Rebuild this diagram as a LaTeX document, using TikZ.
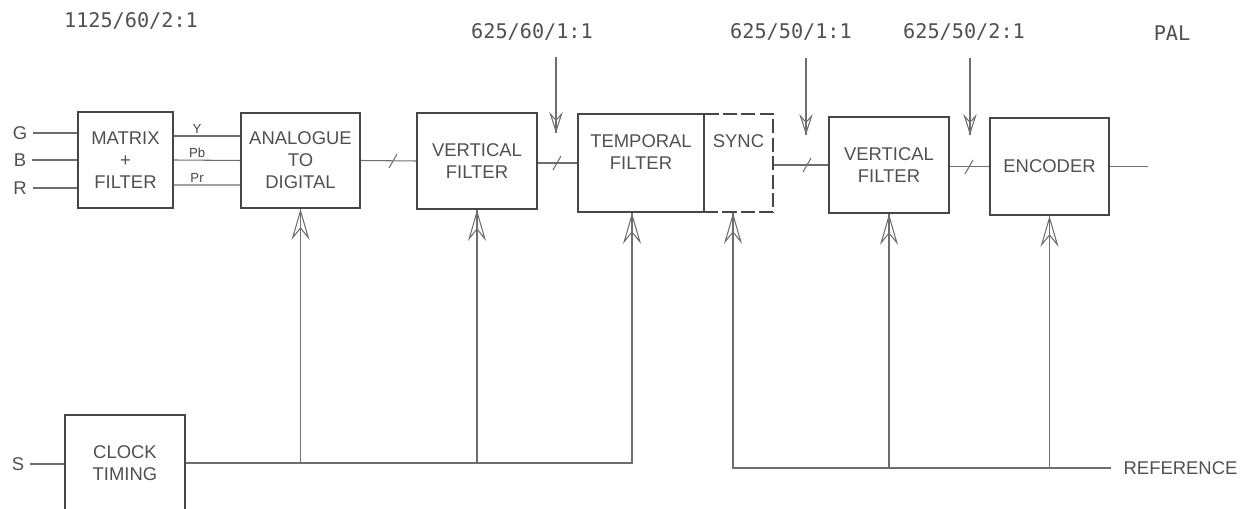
\documentclass[tikz,border=0pt]{standalone}
\usepackage{fontspec}
\setmainfont{Liberation Sans}
\newfontfamily\ratefont{DejaVu Sans Mono}
\usepackage{xcolor}
\definecolor{tvdark}{RGB}{70,70,70}
\definecolor{tvgray}{RGB}{110,110,110}
\definecolor{tvtext}{RGB}{80,80,80}
\usetikzlibrary{arrows.meta, positioning, calc}

\begin{document}
\begin{tikzpicture}[x=0.02cm, y=-0.02cm,
  block/.style={draw=tvdark, line width=1pt, text=tvtext, align=center,
    font=\fontsize{10.5}{12.5}\selectfont, minimum width=2.4cm, minimum height=1.92cm, inner sep=0pt},
  sig/.style={draw=tvgray, line width=0.6pt},
  feed/.style={sig, postaction={draw, -{Stealth[open, length=0.62cm, width=0.36cm, inset=0.22cm]}}},
  rate/.style={sig, postaction={draw, -{Stealth[open, length=0.42cm, width=0.27cm, inset=0.15cm]}}},
  lbl/.style={text=tvtext, font=\fontsize{10.5}{12.5}\selectfont},
  ratelbl/.style={text=tvtext, font=\ratefont\fontsize{11.5}{13}\selectfont},
  chan/.style={text=tvdark, font=\fontsize{7.5}{8}\selectfont, inner sep=1pt}]

\useasboundingbox (0,0) rectangle (1246,509);
\clip (0,0) rectangle (1246,509);

% --- Scan rates along the chain ---
\node[ratelbl] (rate-hd) at (131,21) {1125/60/2:1};
\node[ratelbl] (rate-a) at (532,32) {625/60/1:1};
\node[ratelbl] (rate-b) at (791,32) {625/50/1:1};
\node[ratelbl] (rate-c) at (964,32) {625/50/2:1};
\node[ratelbl] (rate-pal) at (1172,33) {PAL};

% --- Processing blocks ---
\node[block, minimum width=1.9cm] (matrix) at (125.5,160) {MATRIX\\+\\FILTER};
\node[block, minimum width=2.38cm, minimum height=1.9cm] (atod) at (300.5,160.5) {ANALOGUE\\TO\\DIGITAL};
\node[block] (vf1) at (477,161) {VERTICAL\\FILTER};
\node[block, minimum width=2.52cm, minimum height=1.96cm] (temporal) at (641,163) {TEMPORAL\\FILTER\\~};
\node[block, dash pattern=on 8pt off 2.5pt, minimum width=1.38cm, minimum height=1.96cm] (sync) at (738.5,163) {SYNC\\~\\~};
\node[block] (vf2) at (889,165) {VERTICAL\\FILTER};
\node[block, minimum width=2.38cm, minimum height=1.94cm] (encoder) at (1049.5,166.5) {ENCODER};
\node[block] (clock) at (125,463) {CLOCK\\TIMING};

% --- RGB inputs ---
\node[lbl] (G) at (20,133) {G};
\node[lbl] (B) at (20,160) {B};
\node[lbl] (R) at (20,188) {R};
\draw[sig] (G) -- (G -| matrix.west);
\draw[sig] (B) -- (B -| matrix.west);
\draw[sig] (R) -- (R -| matrix.west);

% --- Y Pb Pr to converter ---
\draw[sig] ($(matrix.east)+(0,-24)$) -- ($(atod.west)+(0,-24.5)$) node[chan, pos=0.35, above] {Y};
\draw[sig] (matrix.east) -- (atod.west) node[chan, pos=0.35, above] {Pb};
\draw[sig] ($(matrix.east)+(0,25)$) -- ($(atod.west)+(0,24.5)$) node[chan, pos=0.35, above] {Pr};

% --- Digital path ---
\draw[sig] (atod.east) -- (vf1.west);
\draw[sig] (vf1.east |- temporal.west) -- (temporal.west);
\draw[sig] (sync.east |- vf2.west) -- (vf2.west);
\draw[sig] (vf2.east |- encoder.west) -- (encoder.west);
\coordinate (out) at ($(encoder.east)+(38,0)$);
\draw[sig] (encoder.east) -- (out);

% bus ticks
\foreach \tx/\ty in {393/161, 557/163, 807/165, 969/167}
  \draw[sig] (\tx-4,\ty+7) -- (\tx+4,\ty-7);

% rate change markers
\coordinate (ra-top) at (556,57);  \coordinate (ra-tip) at (556,133);
\coordinate (rb-top) at (806,58);  \coordinate (rb-tip) at (806,135);
\coordinate (rc-top) at (970,58);  \coordinate (rc-tip) at (970,135);
\draw[rate] (ra-top) -- (ra-tip);
\draw[rate] (rb-top) -- (rb-tip);
\draw[rate] (rc-top) -- (rc-tip);

% --- Clock distribution ---
\node[lbl] (S) at (18,464) {S};
\draw[sig] (S) -- (S -| clock.west);
\coordinate (tclk) at ($(temporal.south)+(-9,0)$);
\draw[feed] (clock.east) -| (tclk);
\draw[feed] (clock.east -| atod.south) -- (atod.south);
\draw[feed] (clock.east -| vf1.south) -- (vf1.south);

% --- Reference distribution ---
\node[lbl, anchor=west, inner xsep=7pt] (ref) at (1111,468) {REFERENCE};
\coordinate (sclk) at ($(sync.south)+(-5.5,0)$);
\draw[feed] (ref.west) -| (sclk);
\draw[feed] (ref.west -| vf2.south) -- (vf2.south);
\draw[feed] (ref.west -| encoder.south) -- (encoder.south);

\end{tikzpicture}
\end{document}
